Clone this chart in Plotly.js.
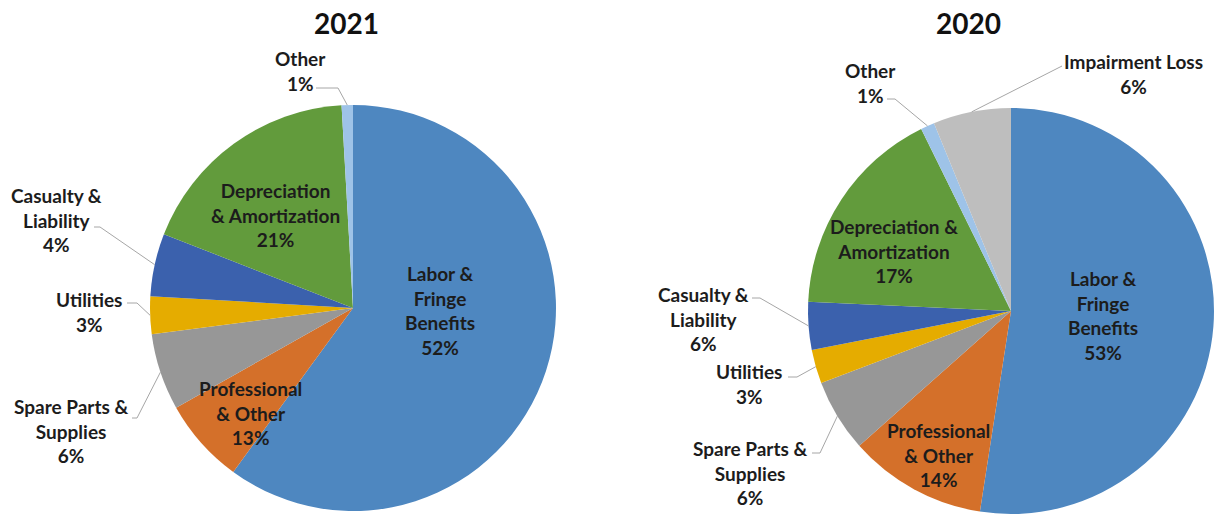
<!DOCTYPE html>
<html>
<head>
<meta charset="utf-8">
<script src="https://cdn.plot.ly/plotly-3.0.1.min.js"></script>
<style>html,body{margin:0;padding:0;background:#fff;}#chart{width:1217px;height:515px;}</style>
</head>
<body>
<div id="chart"></div>
<script>
// ---------------- data ----------------
const years = ['2021', '2020'];

const categories2021 = ['Labor & Fringe Benefits', 'Professional & Other', 'Spare Parts & Supplies', 'Utilities', 'Casualty & Liability', 'Depreciation & Amortization', 'Other'];
const values2021 = [60.1, 6.8, 6.1, 3.0, 5.0, 18.2, 0.9];          // slice sizes as drawn
const pctLabels2021 = ['52%', '13%', '6%', '3%', '4%', '21%', '1%']; // printed labels
const labelText2021 = ['Labor &<br>Fringe<br>Benefits', 'Professional<br>& Other', 'Spare Parts &<br>Supplies', 'Utilities', 'Casualty &<br>Liability', 'Depreciation<br>& Amortization', 'Other'];

const categories2020 = ['Labor & Fringe Benefits', 'Professional & Other', 'Spare Parts & Supplies', 'Utilities', 'Casualty & Liability', 'Depreciation & Amortization', 'Other', 'Impairment Loss'];
const values2020 = [52.5, 11.0, 5.8, 2.7, 3.8, 17.0, 1.1, 6.2];
const pctLabels2020 = ['53%', '14%', '6%', '3%', '6%', '17%', '1%', '6%'];
const labelText2020 = ['Labor &<br>Fringe<br>Benefits', 'Professional<br>& Other', 'Spare Parts &<br>Supplies', 'Utilities', 'Casualty &<br>Liability', 'Depreciation &<br>Amortization', 'Other', 'Impairment Loss'];

// ---------------- styles / layout ----------------
const colorMap = {
  'Labor & Fringe Benefits': '#4E87C0',
  'Professional & Other': '#D4702A',
  'Spare Parts & Supplies': '#979797',
  'Utilities': '#E5AC00',
  'Casualty & Liability': '#3B61AD',
  'Depreciation & Amortization': '#629B3C',
  'Other': '#9EC3E8',
  'Impairment Loss': '#BEBEBE'
};
const W = 1217, H = 515;
const FONT = 'Lato, "Open Sans", sans-serif';
const TEXT_COLOR = '#1c1c1c';
const LINE_COLOR = '#A6A6A6';

const pieGeom = [
  { cx: 353, cy: 308, r: 203, titleX: 346, titleY: 23 },
  { cx: 1011, cy: 311, r: 203, titleX: 968, titleY: 23 }
];

// label placements (pixel positions of text block centres, leader start points)
const labelPos2021 = [
  { x: 440, y: 310 },
  { x: 250, y: 413 },
  { x: 71, y: 431, lx0: 132, ly: 418, lx1: 137 },
  { x: 89, y: 312, lx0: 127, ly: 303, lx1: 137 },
  { x: 56, y: 220, lx0: 94, ly: 227, lx1: 100 },
  { x: 275, y: 215 },
  { x: 300, y: 71, lx0: 316, ly: 88, lx1: 338 }
];
const labelPos2020 = [
  { x: 1103, y: 315 },
  { x: 938, y: 455 },
  { x: 750, y: 473, lx0: 812, ly: 453, lx1: 820 },
  { x: 749, y: 384, lx0: 788, ly: 377, lx1: 797 },
  { x: 703, y: 319, lx0: 752, ly: 298, lx1: 760 },
  { x: 894, y: 251 },
  { x: 870, y: 83, lx0: 887, ly: 99, lx1: 895 },
  { x: 1133, y: 74, lx0: 1062, ly: 66, lx1: 1062 }
];

const px = x => x / W;
const py = y => 1 - y / H;

const sets = [
  { year: years[0], cats: categories2021, vals: values2021, pct: pctLabels2021, txt: labelText2021, pos: labelPos2021 },
  { year: years[1], cats: categories2020, vals: values2020, pct: pctLabels2020, txt: labelText2020, pos: labelPos2020 }
];

const traces = [];
const annotations = [];
const shapes = [];

sets.forEach((s, k) => {
  const g = pieGeom[k];
  traces.push({
    type: 'pie',
    labels: s.cats,
    values: s.vals,
    sort: false,
    direction: 'clockwise',
    rotation: 0,
    textinfo: 'none',
    hoverinfo: 'label+percent',
    marker: { colors: s.cats.map(c => colorMap[c]), line: { width: 0 } },
    domain: { x: [px(g.cx - g.r), px(g.cx + g.r)], y: [py(g.cy + g.r), py(g.cy - g.r)] },
    showlegend: false
  });
  annotations.push({
    xref: 'paper', yref: 'paper', x: px(g.titleX), y: py(g.titleY),
    xanchor: 'center', yanchor: 'middle', showarrow: false,
    text: '<b>' + s.year + '</b>',
    font: { family: FONT, size: 28, color: '#111111' }
  });
  const total = s.vals.reduce((a, b) => a + b, 0);
  let cum = 0;
  s.vals.forEach((v, i) => {
    const mid = (cum + v / 2) / total * 2 * Math.PI;
    cum += v;
    const p = s.pos[i];
    annotations.push({
      xref: 'paper', yref: 'paper', x: px(p.x), y: py(p.y),
      xanchor: 'center', yanchor: 'middle', showarrow: false, align: 'center',
      text: '<b>' + s.txt[i] + '<br>' + s.pct[i] + '</b>',
      font: { family: FONT, size: 19, color: TEXT_COLOR }
    });
    if (p.lx0 !== undefined) {
      const tx = g.cx + g.r * Math.sin(mid);
      const ty = g.cy - g.r * Math.cos(mid);
      shapes.push({
        type: 'path', xref: 'paper', yref: 'paper',
        path: 'M ' + px(p.lx0) + ' ' + py(p.ly) + ' L ' + px(p.lx1) + ' ' + py(p.ly) + ' L ' + px(tx) + ' ' + py(ty),
        line: { color: LINE_COLOR, width: 1 }
      });
    }
  });
});

const layout = {
  width: W, height: H,
  margin: { l: 0, r: 0, t: 0, b: 0 },
  paper_bgcolor: '#ffffff',
  plot_bgcolor: '#ffffff',
  annotations: annotations,
  shapes: shapes,
  font: { family: FONT }
};

Plotly.newPlot('chart', traces, layout, { displayModeBar: false, staticPlot: true });
</script>
</body>
</html>
